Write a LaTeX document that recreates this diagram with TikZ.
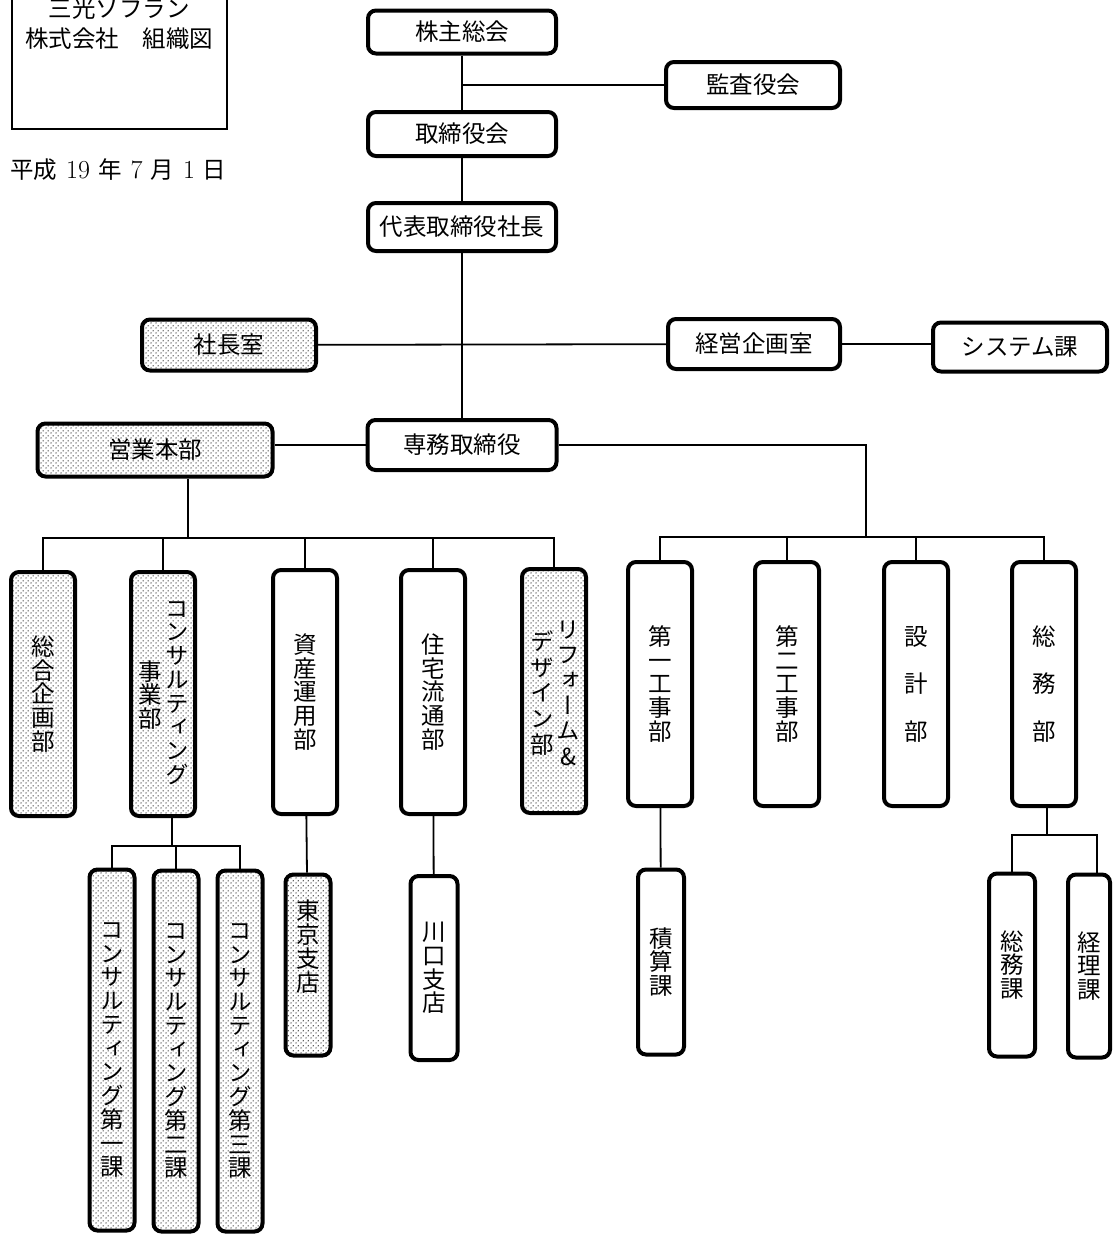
\documentclass[tikz,border=0pt]{standalone}
\usepackage{fontspec}
\usepackage{tikz}
\usetikzlibrary{positioning,calc,patterns.meta}
\newfontfamily\jp{Noto Sans CJK JP}
\newfontfamily\jpv[RawFeature=+vert]{Noto Sans CJK JP}

\tikzdeclarepattern{
  name=dotfill,
  type=uncolored,
  bounding box={(0pt,0pt) and (5pt,5pt)},
  tile size={(5pt,5pt)},
  code={
    \fill (1.25pt,1.25pt) circle (0.8pt);
    \fill (3.75pt,3.75pt) circle (0.8pt);
  }
}

\begin{document}
\begin{tikzpicture}[
    x=1pt, y=-1pt,
    orgbox/.style={draw, line width=4pt, rounded corners=8pt, inner sep=0pt, align=center},
    hbox/.style={orgbox, font=\jp\fontsize{23.5}{28}\selectfont},
    vbox/.style={orgbox, font=\jpv\fontsize{23.5}{23.75}\selectfont},
    dept/.style={vbox, minimum width=64pt, minimum height=244pt},
    sect/.style={vbox, minimum width=45pt, minimum height=181pt},
    dotbox/.style={pattern=dotfill, pattern color=black!85},
    vtext/.style={align=center, inner sep=0pt, font=\jpv\fontsize{23.5}{23.75}\selectfont},
    link/.style={line width=1.8pt}
]
    \useasboundingbox (0,0) rectangle (1113,1234);

    % Title
    \node[draw, line width=2pt, minimum width=215pt, minimum height=148pt] (frame) at (119.5,55) {};
    \node[align=center, inner sep=0pt, font=\jp\fontsize{23.5}{30}\selectfont] (title) at (119,24) {三光ソフラン\\株式会社　組織図};
    \node[anchor=west, inner sep=0pt, font=\jp\fontsize{23.5}{28}\selectfont] (date) at (10,170) {平成\hspace{9pt}{\rmfamily\fontsize{26}{28}\selectfont 19}\hspace{8pt}年\hspace{9pt}{\rmfamily\fontsize{26}{28}\selectfont 7}\hspace{8pt}月\hspace{9pt}{\rmfamily\fontsize{26}{28}\selectfont 1}\hspace{8pt}日};

    % Top layer
    \node[hbox, minimum width=188pt, minimum height=43pt] (kabu) at (462,32) {株主総会};
    \node[hbox, minimum width=174pt, minimum height=46pt] (kansa) at (753,85) {監査役会};
    \node[hbox, minimum width=188pt, minimum height=44pt] (torishimari) at (462,134) {取締役会};
    \node[hbox, minimum width=188pt, minimum height=48pt] (daihyo) at (462,227) {代表取締役社長};

    % Staff
    \node[hbox, dotbox, minimum width=174pt, minimum height=51pt] (shacho) at (229,345) {社長室};
    \node[hbox, minimum width=172pt, minimum height=50pt] (keiei) at (754,344) {経営企画室};
    \node[hbox, minimum width=174pt, minimum height=49pt] (system) at (1020,347) {システム課};

    \node[hbox, dotbox, minimum width=235pt, minimum height=53pt] (eigyo) at (155,450) {営業本部};
    \node[hbox, minimum width=189pt, minimum height=50pt] (senmu) at (462,445) {専務取締役};

    % Sales departments
    \node[dept, dotbox] (sogo) at (43,694) {総\\合\\企\\画\\部};
    \node[dept, dotbox] (cons) at (163,694) {};
    \node[vtext] (consA) at (177,693) {コ\\ン\\サ\\ル\\テ\\ィ\\ン\\グ};
    \node[vtext] (consB) at (150,695) {事\\業\\部};
    \node[dept] (shisan) at (305,692) {資\\産\\運\\用\\部};
    \node[dept] (jutaku) at (433,692) {住\\宅\\流\\通\\部};
    \node[dept, dotbox] (reform) at (554,691) {};
    \node[vtext, font=\jpv\fontsize{23.5}{25.4}\selectfont] (reformA) at (568,693) {リ\\フ\\ォ\\ー\\ム\\\&};
    \node[vtext, font=\jpv\fontsize{23.5}{25.7}\selectfont] (reformB) at (542,693) {デ\\ザ\\イ\\ン\\部};

    % Works departments
    \node[dept] (koji1) at (660,684) {第\\一\\工\\事\\部};
    \node[dept] (koji2) at (787,684) {第\\二\\工\\事\\部};
    \node[dept] (sekkei) at (916,684) {設\\[23.75pt]計\\[23.75pt]部};
    \node[dept] (somu) at (1044,684) {総\\[23.75pt]務\\[23.75pt]部};

    % Sections
    \node[sect, dotbox, minimum height=361pt] (cons1) at (112,1050) {コ\\ン\\サ\\ル\\テ\\ィ\\ン\\グ\\第\\一\\課};
    \node[sect, dotbox, minimum height=361pt] (cons2) at (176,1051) {コ\\ン\\サ\\ル\\テ\\ィ\\ン\\グ\\第\\二\\課};
    \node[sect, dotbox, minimum height=361pt] (cons3) at (240,1051) {コ\\ン\\サ\\ル\\テ\\ィ\\ン\\グ\\第\\三\\課};
    \node[sect, dotbox] (tokyo) at (308,965) {東\\京\\支\\店\\[15pt]};
    \node[sect, minimum width=47pt, minimum height=184pt] (kawaguchi) at (434,968) {川\\口\\支\\店};
    \node[sect, minimum width=46pt, minimum height=185pt] (sekisan) at (661,962) {積\\算\\課};
    \node[sect, minimum width=46pt, minimum height=183pt] (somuka) at (1012,965) {総\\務\\課};
    \node[sect, minimum width=42pt, minimum height=183pt] (keiri) at (1089,966) {経\\理\\課};

    % Bus points
    \coordinate (lbus) at (188,538);
    \coordinate (rbus) at (866,537);
    \coordinate (cbus) at (172,846);
    \coordinate (sbus) at (1047,835);

    % Connections
    \draw[link] (kabu) -- (torishimari);
    \draw[link] (kansa.west) -- (kansa.west -| kabu.south);
    \draw[link] (torishimari) -- (daihyo);
    \draw[link] (daihyo) -- (senmu);
    \draw[link] (shacho) -- (keiei);
    \draw[link] (keiei.east) -- (keiei.east -| system.west);
    \draw[link] (senmu.west) -- (senmu.west -| eigyo.east);
    \draw[link] (eigyo.south -| lbus) -- (lbus);
    \foreach \d in {sogo,cons,shisan,jutaku,reform}
        \draw[link] (\d.north) |- (lbus);
    \draw[link] (senmu.east) -| (rbus);
    \foreach \d in {koji1,koji2,sekkei,somu}
        \draw[link] (\d.north) |- (rbus);
    \draw[link] (cons.south -| cbus) -- (cbus);
    \foreach \d in {cons1,cons2,cons3}
        \draw[link] (\d.north) |- (cbus);
    \draw[link] (shisan) -- (tokyo);
    \draw[link] (jutaku) -- (kawaguchi);
    \draw[link] (koji1) -- (sekisan);
    \draw[link] (somu.south -| sbus) -- (sbus);
    \draw[link] (somuka.north) |- (sbus);
    \draw[link] ([xshift=8pt]keiri.north) |- (sbus);

\end{tikzpicture}
\end{document}
